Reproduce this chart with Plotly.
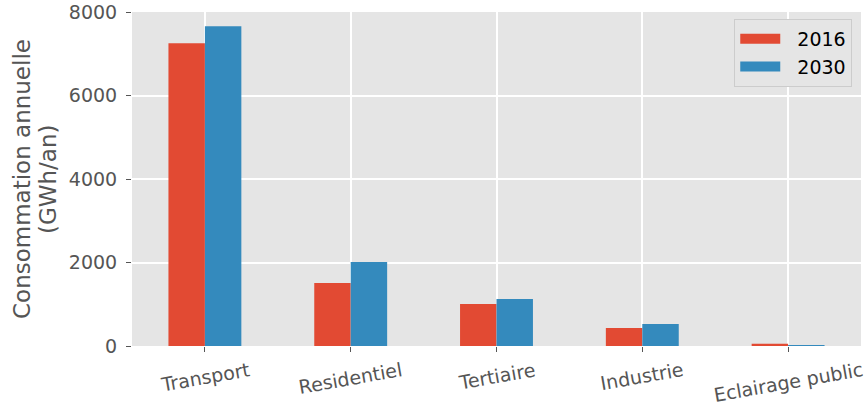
import plotly.graph_objects as go

categories = ["Transport", "Residentiel", "Tertiaire", "Industrie", "Eclairage public"]
values_2016 = [7250, 1510, 1005, 430, 55]
values_2030 = [7660, 2010, 1125, 525, 22]
y_ticks = [0, 2000, 4000, 6000, 8000]
series_names = ["2016", "2030"]
colors = ["#E24A33", "#348ABD"]
y_title_lines = ["Consommation annuelle", "(GWh/an)"]

font_family = "DejaVu Sans"
fig = go.Figure()
for name, vals, col in zip(series_names, [values_2016, values_2030], colors):
    fig.add_trace(go.Bar(x=categories, y=vals, name=name, showlegend=False,
                         marker=dict(color=col, line=dict(width=0))))
# legend swatches (wide rectangles like matplotlib)
for name, col in zip(series_names, colors):
    fig.add_trace(go.Scatter(x=[None], y=[None], mode="lines", name="\u00a0\u00a0" + name,
                             line=dict(color=col, width=14)))

# category labels rotated and centred under each tick
for cat in categories:
    fig.add_annotation(x=cat, xref="x", y=0, yref="paper", text=cat, showarrow=False,
                       textangle=-10, xanchor="center", yanchor="top", yshift=-10,
                       font=dict(family=font_family, size=19, color="#555555"))

# y-axis title (two lines, matplotlib spacing)
for line, shift in zip(y_title_lines, [-110, -84]):
    fig.add_annotation(x=0, xref="paper", y=0.5, yref="paper", text=line, showarrow=False,
                       textangle=-90, xanchor="center", yanchor="middle", xshift=shift,
                       font=dict(family=font_family, size=23, color="#555555"))

fig.update_layout(
    width=868, height=405,
    margin=dict(l=132, r=7, t=12, b=59, autoexpand=False),
    paper_bgcolor="white",
    plot_bgcolor="#E5E5E5",
    barmode="group",
    bargap=0.5,
    bargroupgap=0,
    font=dict(family=font_family, color="#555555", size=19),
    showlegend=True,
    legend=dict(
        x=0.988, y=0.979, xanchor="right", yanchor="top",
        bgcolor="#E5E5E5", bordercolor="#CCCCCC", borderwidth=1,
        font=dict(family=font_family, size=19, color="black"),
        itemwidth=40,
    ),
    xaxis=dict(
        type="category",
        range=[-0.5, 4.5],
        automargin=False,
        showgrid=True, gridcolor="white", gridwidth=1.5,
        ticks="outside", ticklen=5, tickcolor="#555555", tickwidth=1,
        showticklabels=False,
        showline=False, zeroline=False,
    ),
    yaxis=dict(
        range=[0, 8000],
        automargin=False,
        tickvals=y_ticks,
        showgrid=True, gridcolor="white", gridwidth=1.5,
        ticks="outside", ticklen=5, tickcolor="#555555", tickwidth=1,
        ticklabelstandoff=5,
        tickfont=dict(size=19, color="#555555"),
        showline=False, zeroline=False,
    ),
)

fig.write_html("out.html", config={"displayModeBar": False},
               post_script="document.body.style.margin='0';document.body.style.overflow='hidden';")
